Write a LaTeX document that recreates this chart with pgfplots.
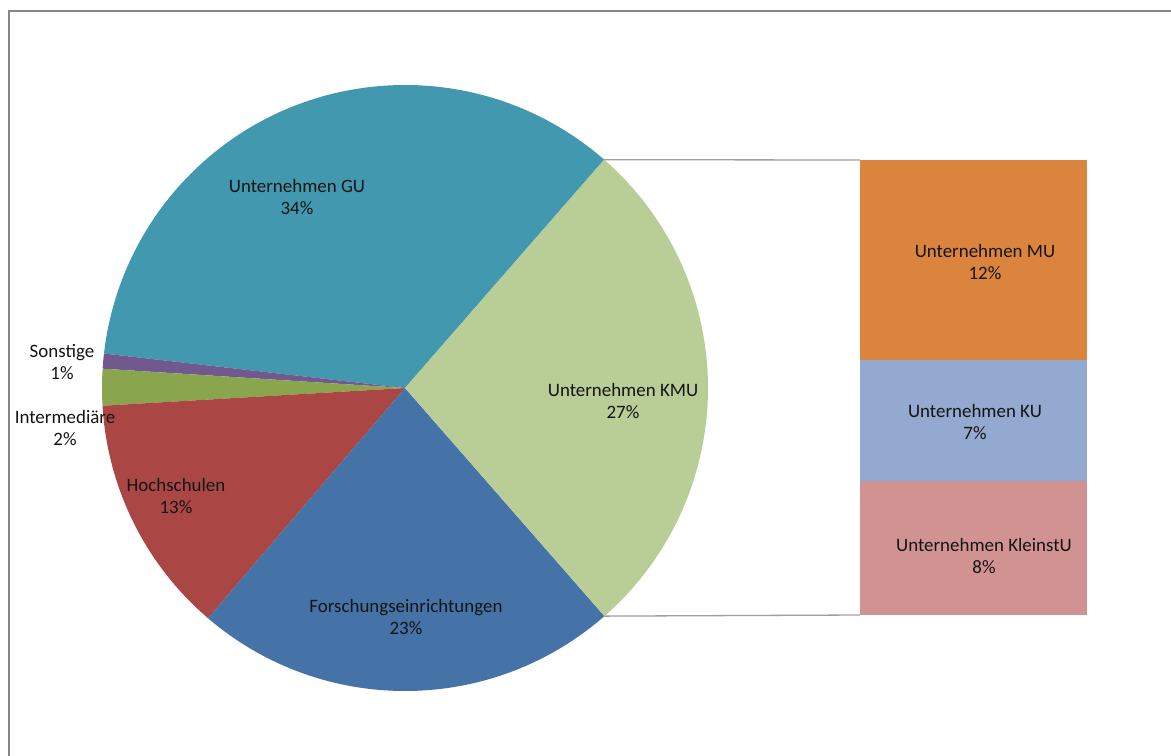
\documentclass[border=0pt]{standalone}
\usepackage{fontspec}
\setmainfont{Carlito}
\usepackage{pgfplots}
\pgfplotsset{compat=1.18}
\definecolor{cGU}{HTML}{4198AF}
\definecolor{cKMU}{HTML}{B9CD96}
\definecolor{cFor}{HTML}{4572A7}
\definecolor{cHS}{HTML}{AA4643}
\definecolor{cInt}{HTML}{89A54E}
\definecolor{cSon}{HTML}{71588F}
\definecolor{cMU}{HTML}{DB843D}
\definecolor{cKU}{HTML}{93A9CF}
\definecolor{cKl}{HTML}{D19392}
\definecolor{txt}{HTML}{141414}
% pie shares (%), counter-clockwise from 48.9 deg
\def\pGU{34.6}\def\pSon{0.8}\def\pInt{1.95}\def\pHS{12.8}\def\pFor{22.7}\def\pKMU{27.15}
% split of KMU (%)
\def\pMU{11.93}\def\pKU{7.22}\def\pKl{8.0}
\begin{document}
\begin{tikzpicture}[lbl/.style={font=\fontsize{19}{23}\selectfont, text=txt, align=center, inner sep=0pt}]
\useasboundingbox (0,0) rectangle (1171bp,756bp);
\pgfmathsetmacro\aA{48.9}
\pgfmathsetmacro\aB{\aA+3.6*\pGU}
\pgfmathsetmacro\aC{\aB+3.6*\pSon}
\pgfmathsetmacro\aD{\aC+3.6*\pInt}
\pgfmathsetmacro\aE{\aD+3.6*\pHS}
\pgfmathsetmacro\aF{\aE+3.6*\pFor}
\pgfmathsetmacro\aG{\aF+3.6*\pKMU}
\pgfmathsetmacro\sc{455/\pKMU}
\pgfmathsetmacro\yA{160}
\pgfmathsetmacro\yB{\yA+\sc*\pMU}
\pgfmathsetmacro\yC{\yB+\sc*\pKU}
\pgfmathsetmacro\yD{\yC+\sc*\pKl}
\begin{axis}[
  at={(0,0)}, anchor=south west,
  x=1bp, y=1bp, y dir=reverse,
  xmin=0, xmax=1171, ymin=0, ymax=756,
  hide axis, clip=false,
]
% frame
\draw[color=gray!95, line width=1.6bp] (axis cs:9,760) -- (axis cs:9,11) -- (axis cs:1180,11);
% pie slices
\fill[cGU]  (axis cs:405,388) -- ++(\aA:303bp) arc[start angle=\aA, end angle=\aB, radius=303bp] -- cycle;
\fill[cSon] (axis cs:405,388) -- ++(\aB:303bp) arc[start angle=\aB, end angle=\aC, radius=303bp] -- cycle;
\fill[cInt] (axis cs:405,388) -- ++(\aC:303bp) arc[start angle=\aC, end angle=\aD, radius=303bp] -- cycle;
\fill[cHS]  (axis cs:405,388) -- ++(\aD:303bp) arc[start angle=\aD, end angle=\aE, radius=303bp] -- cycle;
\fill[cFor] (axis cs:405,388) -- ++(\aE:303bp) arc[start angle=\aE, end angle=\aF, radius=303bp] -- cycle;
\fill[cKMU] (axis cs:405,388) -- ++(\aF:303bp) arc[start angle=\aF, end angle=\aG, radius=303bp] -- cycle;
% connector lines
\draw[color=gray!75, line width=1.3bp] (axis cs:405,388) ++(\aA:303bp) -- (axis cs:860,\yA);
\draw[color=gray!75, line width=1.3bp] (axis cs:405,388) ++(\aF:303bp) -- (axis cs:860,\yD);
% bar of pie
\addplot[fill=cMU, draw=none, mark=none] coordinates {(860,\yA) (1087,\yA) (1087,\yB) (860,\yB)} -- cycle;
\addplot[fill=cKU, draw=none, mark=none] coordinates {(860,\yB) (1087,\yB) (1087,\yC) (860,\yC)} -- cycle;
\addplot[fill=cKl, draw=none, mark=none] coordinates {(860,\yC) (1087,\yC) (1087,\yD) (860,\yD)} -- cycle;
% labels
\node[lbl] at (axis cs:297,197) {Unternehmen GU\\34\%};
\node[lbl] at (axis cs:623,401) {Unternehmen KMU\\27\%};
\node[lbl] at (axis cs:406,617) {Forschungseinrichtungen\\23\%};
\node[lbl] at (axis cs:176,496) {Hochschulen\\13\%};
\node[lbl] at (axis cs:65,428) {Intermediäre\\2\%};
\node[lbl] at (axis cs:62,362) {Sonstige\\1\%};
\node[lbl] at (axis cs:985,262) {Unternehmen MU\\12\%};
\node[lbl] at (axis cs:975,422) {Unternehmen KU\\7\%};
\node[lbl] at (axis cs:984,556) {Unternehmen KleinstU\\8\%};
\end{axis}
\end{tikzpicture}
\end{document}
